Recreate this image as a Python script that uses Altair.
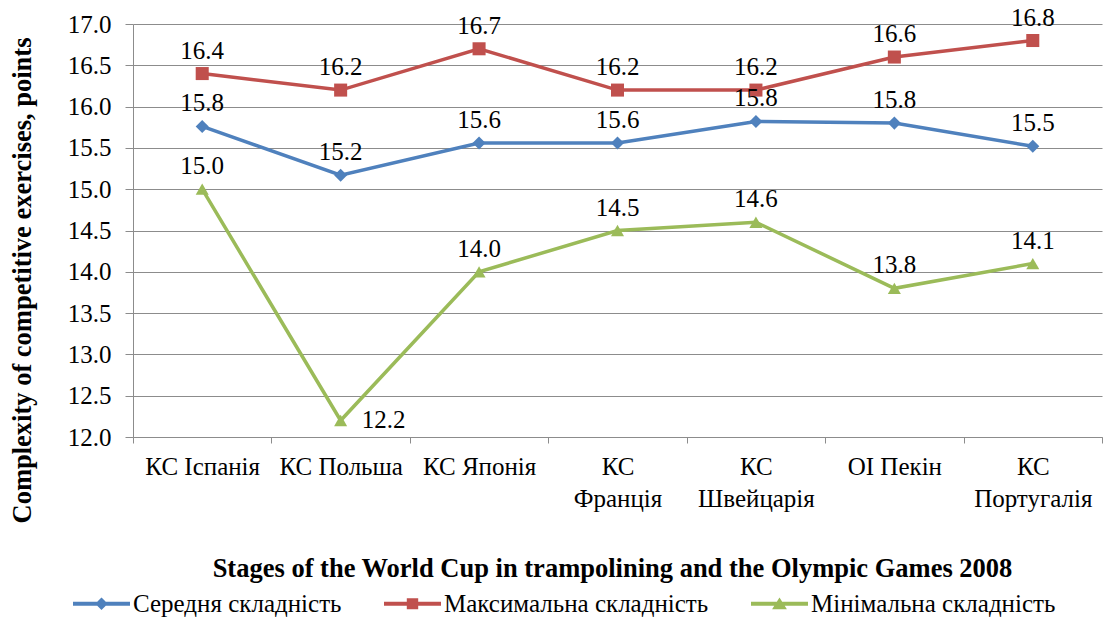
import altair as alt
import pandas as pd

stages = ["КС Іспанія", "КС Польша", "КС Японія", "КС Франція",
          "КС Швейцарія", "ОІ Пекін", "КС Португалія"]
wrapped = ["КС Франція", "КС Швейцарія", "КС Португалія"]
series_names = ["Середня складність", "Максимальна складність", "Мінімальна складність"]
mean_vals = [15.76, 15.17, 15.56, 15.56, 15.82, 15.80, 15.52]
max_vals = [16.4, 16.2, 16.7, 16.2, 16.2, 16.6, 16.8]
min_vals = [15.0, 12.2, 14.0, 14.5, 14.6, 13.8, 14.1]
y_ticks = [12.0, 12.5, 13.0, 13.5, 14.0, 14.5, 15.0, 15.5, 16.0, 16.5, 17.0]

colors = ["#4F81BD", "#C0504D", "#9BBB59"]
marker_shapes = ["diamond", "square", "triangle-up"]
line_part = "M-1,-0.07L1,-0.07L1,0.07L-1,0.07Z"
legend_paths = [
    line_part + "M0,-0.22L0.22,0L0,0.22L-0.22,0Z",
    line_part + "M-0.2,-0.19L0.2,-0.19L0.2,0.19L-0.2,0.19Z",
    line_part + "M0,-0.22L0.26,0.19L-0.26,0.19Z",
]

rows = []
for name, vals in zip(series_names, [mean_vals, max_vals, min_vals]):
    for s, v in zip(stages, vals):
        rows.append({"stage": s, "series": name, "value": v})
df = pd.DataFrame(rows)

FONT = "Liberation Serif"
GRID = "#8C8C8C"
FS = 25
TFS = 26.5

wrap_list = "[" + ",".join("'" + w + "'" for w in wrapped) + "]"
label_expr = f"indexof({wrap_list}, datum.label) >= 0 ? split(datum.label, ' ') : datum.label"

x_enc = alt.X(
    "stage:N", sort=stages, bandPosition=0.5,
    scale=alt.Scale(type="band", paddingInner=0, paddingOuter=0, range=[0, 969]),
    axis=alt.Axis(
        title="Stages of the World Cup in trampolining and the Olympic Games 2008",
        labelExpr=label_expr, labelAngle=0, tickBand="extent", tickSize=6,
        tickColor=GRID, domainColor=GRID, grid=False,
        labelFont=FONT, labelFontSize=FS, labelColor="black",
        labelPadding=11, labelLineHeight=32, labelBaseline="top",
        titleFont=FONT, titleFontSize=TFS, titleFontWeight="bold", titleColor="black",
        titleY=131, titleBaseline="middle", titleX=479,
    ),
)
y_enc = alt.Y(
    "value:Q",
    scale=alt.Scale(domain=[12, 17], nice=False, zero=False),
    axis=alt.Axis(
        title="Complexity of competitive exercises, points",
        values=y_ticks, format=".1f", tickSize=8, tickColor=GRID,
        domainColor=GRID, gridColor=GRID, gridWidth=1,
        labelFont=FONT, labelFontSize=FS, labelColor="black",
        labelPadding=14,
        titleFont=FONT, titleFontSize=TFS, titleFontWeight="bold", titleColor="black",
        titleX=-111, titleY=256, titleAngle=-90, titleBaseline="middle", titleAlign="center",
    ),
)

color_scale = alt.Scale(domain=series_names, range=colors)
base = alt.Chart(df)

lines = base.mark_line(strokeWidth=3.5).encode(
    x=x_enc, y=y_enc,
    color=alt.Color("series:N", scale=color_scale, legend=None),
    detail="series:N",
)
points = base.mark_point(filled=True, opacity=1, size=170, strokeWidth=0).encode(
    x=x_enc, y=y_enc,
    color=alt.Color("series:N", scale=color_scale, legend=None),
    shape=alt.Shape("series:N", scale=alt.Scale(domain=series_names, range=marker_shapes), legend=None),
)
special = "datum.series == 'Мінімальна складність' && datum.stage == 'КС Польша'"
labels = base.transform_filter(f"!({special})").mark_text(
    font=FONT, fontSize=FS, dy=-23, baseline="middle", color="black"
).encode(x=x_enc, y=y_enc, text=alt.Text("value:Q", format=".1f"))
label_side = base.transform_filter(special).mark_text(
    font=FONT, fontSize=FS, dx=21, align="left", baseline="middle", color="black"
).encode(x=x_enc, y=y_enc, text=alt.Text("value:Q", format=".1f"))

leg = alt.Legend(
    orient="none", legendX=-60, legendY=551, direction="horizontal", columns=3,
    title=None, symbolSize=3249, symbolStrokeWidth=0, symbolOpacity=1,
    labelFont=FONT, labelFontSize=FS, labelColor="black",
    labelOffset=3, labelLimit=500, columnPadding=42, padding=0,
)
legend_layer = base.transform_filter("false").mark_point(filled=True, opacity=1).encode(
    x=x_enc, y=y_enc,
    color=alt.Color("series:N", scale=alt.Scale(domain=series_names, range=colors), legend=leg),
    shape=alt.Shape("series:N", scale=alt.Scale(domain=series_names, range=legend_paths), legend=leg),
)

chart = alt.layer(lines, points, labels, label_side, legend_layer).resolve_scale(
    color="independent", shape="independent"
).properties(
    width=972, height=413,
    autosize=alt.AutoSizeParams(type="none"),
    padding={"left": 133, "top": 24, "right": 0, "bottom": 187},
).configure(background="white", font=FONT).configure_view(stroke=None)

chart.save("out.html", embed_options={"renderer": "svg", "actions": False})
